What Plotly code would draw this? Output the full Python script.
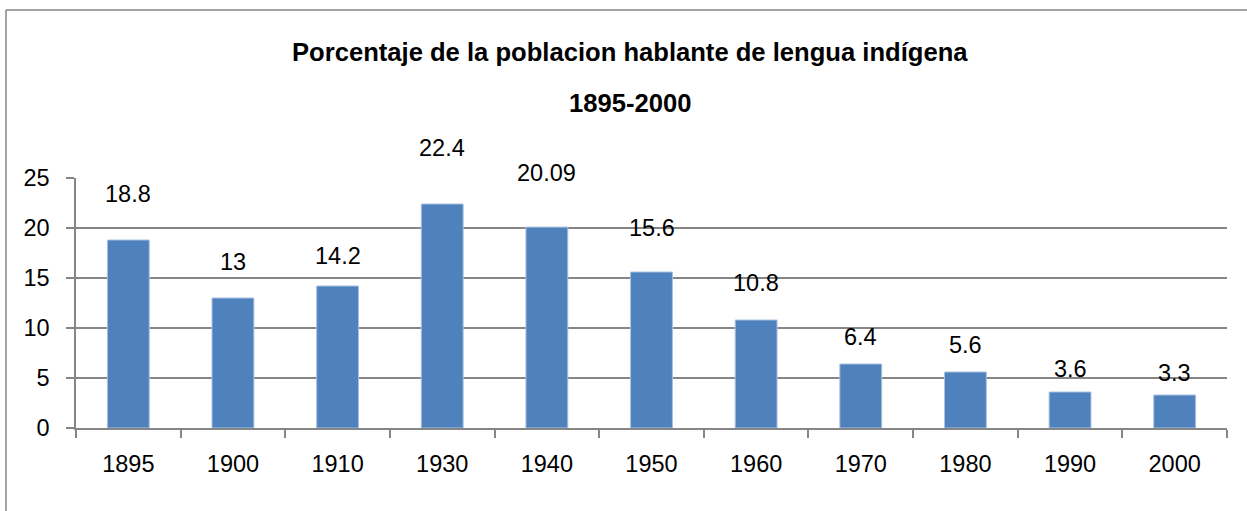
import plotly.graph_objects as go

# data
years = ['1895', '1900', '1910', '1930', '1940', '1950', '1960', '1970', '1980', '1990', '2000']
percent = [18.8, 13, 14.2, 22.4, 20.09, 15.6, 10.8, 6.4, 5.6, 3.6, 3.3]
label_text = ['18.8', '13', '14.2', '22.4', '20.09', '15.6', '10.8', '6.4', '5.6', '3.6', '3.3']

# how far above each bar its label was dragged (data units)
label_lift = [4.6, 3.6, 3.0, 5.6, 5.4, 4.4, 3.7, 2.7, 2.7, 2.3, 2.2]

W, H = 1247, 511
ml, mr, mt, mb = 76, 20, 178, 83
ymax = 25
grey = '#868686'
font = 'Liberation Sans'

fig = go.Figure()
fig.add_trace(go.Bar(x=years, y=percent, width=0.4,
                     marker=dict(color='#4F81BD', line=dict(color='#A9C1E0', width=1))))

# data labels; y on paper so the ones above 25 are not hidden
for i, (v, t, lift) in enumerate(zip(percent, label_text, label_lift)):
    fig.add_annotation(x=i, yref='paper', y=(v + lift) / ymax, text=t, showarrow=False,
                       yanchor='middle', font=dict(family=font, size=23.5, color='black'))

# title, two lines
pw = W - ml - mr
ph = H - mt - mb
def py(pix):
    return (H - mb - pix) / ph
def px(pix):
    return (pix - ml) / pw

fig.add_annotation(xref='paper', yref='paper', x=px(630), y=py(52),
                   xanchor='center', yanchor='middle',
                   text='<b>Porcentaje de la poblacion hablante de lengua indígena</b>',
                   showarrow=False, font=dict(family=font, size=25.6, color='black'))
fig.add_annotation(xref='paper', yref='paper', x=px(630), y=py(103),
                   xanchor='center', yanchor='middle',
                   text='<b>1895-2000</b>', showarrow=False,
                   font=dict(family=font, size=25.6, color='black'))

# chart border (left and top visible)
fig.add_shape(type='line', xref='paper', yref='paper', x0=px(6), x1=px(6), y0=py(10), y1=py(520),
              line=dict(color=grey, width=1.5))
fig.add_shape(type='line', xref='paper', yref='paper', x0=px(6), x1=px(1260), y0=py(10), y1=py(10),
              line=dict(color=grey, width=1.5))

fig.update_layout(
    width=W, height=H,
    margin=dict(l=ml, r=mr, t=mt, b=mb),
    plot_bgcolor='white', paper_bgcolor='white',
    showlegend=False,
    font=dict(family=font, size=23.5, color='black'),
)
fig.update_xaxes(type='category', range=[-0.5, len(years) - 0.5], showline=True,
                 linecolor=grey, linewidth=1.5, tickangle=0,
                 ticks='outside', ticklen=8, tickcolor=grey, tickwidth=1.5,
                 tickson='boundaries', showgrid=False, ticklabelstandoff=14)
fig.update_yaxes(range=[0, ymax], dtick=5, showline=True, linecolor=grey, linewidth=1.5,
                 ticks='outside', ticklen=8, tickcolor=grey, tickwidth=1.5,
                 showgrid=True, gridcolor=grey, gridwidth=1.5, zeroline=False,
                 ticklabelstandoff=12)

# drop the default page margin so the figure sits at the window corner
fig.write_html('out.html', config={'displayModeBar': False},
               post_script="document.body.style.margin='0';")
